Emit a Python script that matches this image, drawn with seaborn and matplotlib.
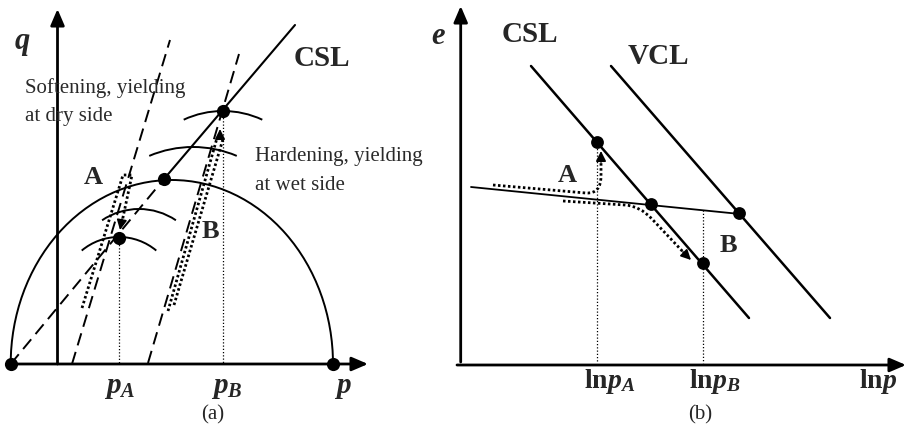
import numpy as np
import pandas as pd
import seaborn as sns
import matplotlib as mpl
import matplotlib.pyplot as plt
from matplotlib.patches import Arc, PathPatch
from matplotlib.path import Path

# ---------------- geometry of the sketch (drawing units, y downward) -------------
# Panel (a): p-q plane
q_axis_x, q_axis_y = [57.5, 57.5], [364, 9]
p_axis_x, p_axis_y = [8, 368], [364, 364]

csl_dash_x, csl_dash_y = [10.7, 164], [364, 179]      # dashed part of CSL
csl_solid_x, csl_solid_y = [164, 295], [179, 25]      # solid part of CSL

stress_path1_x, stress_path1_y = [72, 170], [364, 40]   # dashed path through A
stress_path2_x, stress_path2_y = [148, 239], [363, 54]  # dashed path through B

# main yield surface (left end, right end, top)
ys_left, ys_right, ys_top, ys_base = 10.7, 333, 180, 364

# small yield-surface arcs: centre x, top y, radius, half angle (deg)
arc_cx = [119, 139, 193, 223]
arc_top = [237, 209, 147, 111]
arc_r = [58, 66, 112, 93]
arc_half = [40, 34, 23, 25]

dots_a_x = [10.7, 333, 164, 119, 223]
dots_a_y = [364, 364, 179, 238, 111]

# vertical guides at pA, pB
guides_a_x = [119, 223]
guides_a_top = [238, 111]

# loading paths (dotted)
pathA_a_x, pathA_a_y = [82, 123, 132, 122], [308, 175, 175, 222]
pathA_a_tip = (120, 230)
pathB1_x, pathB1_y = [168, 217], [311, 138]
pathB2_x, pathB2_y = [174, 223], [305, 139]
pathB_tip = (220, 129)

# Panel (b): ln p - e plane
e_axis_x, e_axis_y = [460.7, 460.7], [362, 6]
lnp_axis_x, lnp_axis_y = [457, 906], [365, 365]

csl_b_x, csl_b_y = [531, 749], [66, 318]
vcl_b_x, vcl_b_y = [611, 830], [66, 318]
url_b_x, url_b_y = [471, 740], [187, 214]

dots_b_x = [597, 651, 739, 703]
dots_b_y = [142, 204, 213, 263]

guides_b_x = [597, 703]
guides_b_top = [142, 210]
guides_b_bottom = 363

# ---------------- styling ----------------
sns.set_theme(style="white")
plt.rcParams['font.family'] = ['Liberation Serif', 'DejaVu Serif']
plt.rcParams['mathtext.fontset'] = 'custom'
plt.rcParams['mathtext.rm'] = 'Liberation Serif:bold'
plt.rcParams['mathtext.it'] = 'Liberation Serif:italic:bold'
plt.rcParams['mathtext.bf'] = 'Liberation Serif:bold'

fig = plt.figure(figsize=(9.07, 4.32), dpi=100)
ax = fig.add_axes([0, 0, 1, 1])
ax.set_xlim(0, 907)
ax.set_ylim(432, 0)
ax.axis('off')

K = 'black'
dashed = (0, (6.5, 3.5))
fine_dot = (0, (1, 1.6))
path_dot = (0, (0.9, 0.9))


def line(x, y, lw=1.5, ls='-'):
    sns.lineplot(x=x, y=y, sort=False, color=K, lw=lw, linestyle=ls,
                 legend=False, ax=ax, estimator=None)


def arrow_axis(x, y):
    ax.annotate('', xy=(x[1], y[1]), xytext=(x[0], y[0]),
                arrowprops=dict(arrowstyle='-|>,head_length=0.7,head_width=0.3',
                                lw=2.0, color=K, mutation_scale=14,
                                shrinkA=0, shrinkB=0))


def small_head(tail, tip):
    ax.annotate('', xy=tip, xytext=tail,
                arrowprops=dict(arrowstyle='-|>,head_length=0.6,head_width=0.3',
                                lw=1.2, color=K, mutation_scale=10,
                                shrinkA=0, shrinkB=0))


# ---------------- panel (a) ----------------
arrow_axis(q_axis_x, q_axis_y)
arrow_axis(p_axis_x, p_axis_y)

line(csl_dash_x, csl_dash_y, lw=1.4, ls=dashed)
line(csl_solid_x, csl_solid_y, lw=1.5)
line(stress_path1_x, stress_path1_y, lw=1.4, ls=dashed)
line(stress_path2_x, stress_path2_y, lw=1.4, ls=dashed)

ax.add_patch(Arc(((ys_left + ys_right) / 2, ys_base), ys_right - ys_left,
                 2 * (ys_base - ys_top), theta1=180, theta2=360,
                 color=K, lw=1.4))
for cx, top, r, h in zip(arc_cx, arc_top, arc_r, arc_half):
    ax.add_patch(Arc((cx, top + r), 2 * r, 2 * r, theta1=270 - h,
                     theta2=270 + h, color=K, lw=1.4))

for gx, gt in zip(guides_a_x, guides_a_top):
    line([gx, gx], [gt, 364], lw=0.9, ls=fine_dot)

line(pathA_a_x, pathA_a_y, lw=2.0, ls=path_dot)
small_head((pathA_a_x[-1], pathA_a_y[-1] - 3), pathA_a_tip)
line(pathB1_x, pathB1_y, lw=2.0, ls=path_dot)
line(pathB2_x, pathB2_y, lw=2.0, ls=path_dot)
small_head((pathB_tip[0], pathB_tip[1] + 9), pathB_tip)

sns.scatterplot(x=dots_a_x, y=dots_a_y, s=90, color=K, edgecolor=K,
                linewidth=0, ax=ax, legend=False, zorder=5)

txt_grey = '#2a2a2a'
ax.text(22, 43, r'$q$', fontsize=22, ha='center', va='center')
ax.text(322, 58, 'CSL', fontsize=21, weight='bold', ha='center', va='center')
ax.text(25, 88, 'Softening, yielding', fontsize=15, ha='left', va='center',
        color=txt_grey)
ax.text(25, 117, 'at dry side', fontsize=15, ha='left', va='center',
        color=txt_grey)
ax.text(255, 157, 'Hardening, yielding', fontsize=15, ha='left', va='center',
        color=txt_grey)
ax.text(255, 185, 'at wet side', fontsize=15, ha='left', va='center',
        color=txt_grey)
ax.text(93, 177, 'A', fontsize=19, weight='bold', ha='center', va='center')
ax.text(210, 232, 'B', fontsize=19, weight='bold', ha='center', va='center')
ax.text(120, 388, r'$p_A$', fontsize=21, ha='center', va='center')
ax.text(227, 388, r'$p_B$', fontsize=21, ha='center', va='center')
ax.text(343, 388, r'$p$', fontsize=21, ha='center', va='center')
ax.text(213, 415, '(a)', fontsize=15, ha='center', va='center')

# ---------------- panel (b) ----------------
arrow_axis(e_axis_x, e_axis_y)
arrow_axis(lnp_axis_x, lnp_axis_y)

line(csl_b_x, csl_b_y, lw=1.8)
line(vcl_b_x, vcl_b_y, lw=1.8)
line(url_b_x, url_b_y, lw=1.3)

for gx, gt in zip(guides_b_x, guides_b_top):
    line([gx, gx], [gt, guides_b_bottom], lw=0.9, ls=fine_dot)

# path from the dry side up to the CSL
pa = Path([(493, 185), (586, 193), (601, 194), (601, 176), (601, 160)],
          [Path.MOVETO, Path.LINETO, Path.CURVE3, Path.CURVE3, Path.LINETO])
ax.add_patch(PathPatch(pa, fill=False, lw=2.0, ls=path_dot, color=K))
small_head((601, 162), (601, 151))

# path from the wet side down to the CSL
pb = Path([(563, 201), (625, 205), (640, 206), (652, 219), (686, 255)],
          [Path.MOVETO, Path.LINETO, Path.CURVE3, Path.CURVE3, Path.LINETO])
ax.add_patch(PathPatch(pb, fill=False, lw=2.0, ls=path_dot, color=K))
small_head((683, 252), (691, 260))

sns.scatterplot(x=dots_b_x, y=dots_b_y, s=85, color=K, edgecolor=K,
                linewidth=0, ax=ax, legend=False, zorder=5)

ax.text(438, 37, r'$e$', fontsize=22, ha='center', va='center')
ax.text(530, 35, 'CSL', fontsize=21, weight='bold', ha='center', va='center')
ax.text(658, 57, 'VCL', fontsize=21, weight='bold', ha='center', va='center')
ax.text(567, 175, 'A', fontsize=19, weight='bold', ha='center', va='center')
ax.text(728, 245, 'B', fontsize=19, weight='bold', ha='center', va='center')
ax.text(610, 382, r'$\mathrm{ln}p_A$', fontsize=20, ha='center', va='center')
ax.text(715, 382, r'$\mathrm{ln}p_B$', fontsize=20, ha='center', va='center')
ax.text(878, 382, r'$\mathrm{ln}p$', fontsize=20, ha='center', va='center')
ax.text(700, 415, '(b)', fontsize=15, ha='center', va='center')

fig.savefig('out.png', dpi=100, facecolor='white')
